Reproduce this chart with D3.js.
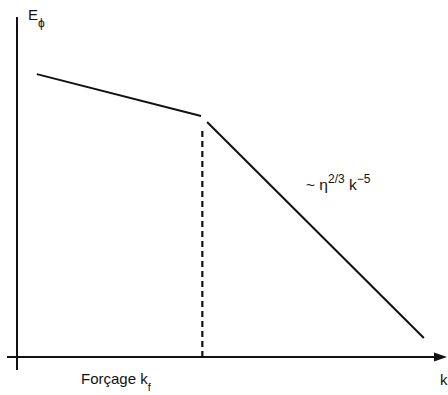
<!DOCTYPE html>
<html>
<head>
<meta charset="utf-8">
<script src="https://cdn.jsdelivr.net/npm/d3@7"></script>
<style>
    body { margin: 0; background: #fff; }
    text { font-family: "Liberation Sans", Arial, sans-serif; fill: #111; }
</style>
</head>
<body>
<div id="chart"></div>
<script>
// Schematic energy spectrum E_phi(k), in normalised axis units
const forcingRange = [{ k: 0.046, E: 0.832 }, { k: 0.427, E: 0.709 }];
const inertialRange = [{ k: 0.441, E: 0.691 }, { k: 0.944, E: 0.056 }];
const forcingK = 0.43;
const forcingDash = [0.665, -0.01];

const width = 448;
const height = 395;

const x = d3.scaleLinear().domain([0, 1]).range([17, 448]);
const y = d3.scaleLinear().domain([0, 1]).range([357, 17]);

const svg = d3.select('#chart')
    .append('svg')
    .attr('width', width)
    .attr('height', height);

// Axes
svg.append('line')
    .attr('x1', x(0)).attr('x2', x(0))
    .attr('y1', y(1)).attr('y2', 370)
    .attr('stroke', '#111').attr('stroke-width', 2);

svg.append('line')
    .attr('x1', 7).attr('x2', 438)
    .attr('y1', y(0)).attr('y2', y(0))
    .attr('stroke', '#111').attr('stroke-width', 2);

svg.append('path')
    .attr('d', `M447,${y(0)} L434,${y(0) - 4.5} L434,${y(0) + 4.5} Z`)
    .attr('fill', '#111');

// Spectrum segments
const line = d3.line()
    .x(d => x(d.k))
    .y(d => y(d.E));

[forcingRange, inertialRange].forEach(seg => {
    svg.append('path')
        .attr('d', line(seg))
        .attr('fill', 'none')
        .attr('stroke', '#111')
        .attr('stroke-width', 2);
});

// Forcing wavenumber marker
svg.append('line')
    .attr('x1', x(forcingK)).attr('x2', x(forcingK))
    .attr('y1', y(forcingDash[0])).attr('y2', y(forcingDash[1]))
    .attr('stroke', '#111')
    .attr('stroke-width', 2.2)
    .attr('stroke-dasharray', '6,4');

// Labels
const eLabel = svg.append('text')
    .attr('x', 28).attr('y', 20)
    .style('font-size', '15px');
eLabel.append('tspan').text('E');
eLabel.append('tspan').attr('dy', 7).style('font-size', '12px').text('\u03d5');

const slope = svg.append('text')
    .attr('x', 306).attr('y', 190)
    .style('font-size', '15.5px');
slope.append('tspan').text('~ \u03b7');
slope.append('tspan').attr('dy', -7).style('font-size', '12px').text('2/3');
slope.append('tspan').attr('dy', 7).text(' k');
slope.append('tspan').attr('dy', -7).style('font-size', '12px').text('\u22125');

const forcing = svg.append('text')
    .attr('x', 81).attr('y', 384)
    .style('font-size', '15px');
forcing.append('tspan').text('Forçage k');
forcing.append('tspan').attr('dy', 7).style('font-size', '11px').text('f');

svg.append('text')
    .attr('x', 440).attr('y', 385)
    .style('font-size', '15px')
    .text('k');
</script>
</body>
</html>
